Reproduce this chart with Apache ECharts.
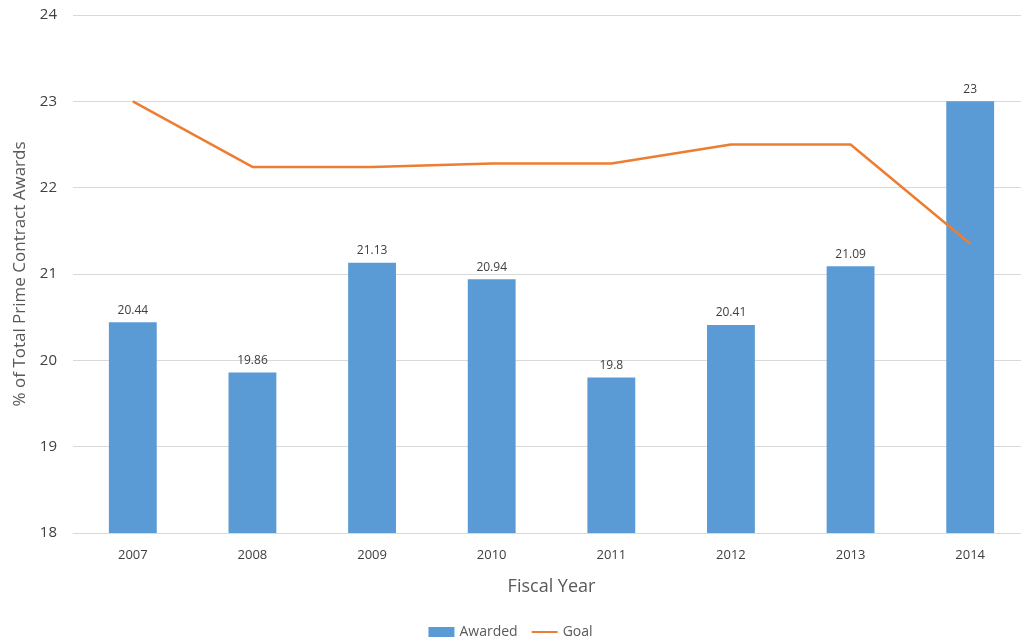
<!DOCTYPE html>
<html>
<head>
    <meta charset="utf-8">
    <title>Prime Contract Awards</title>
    <script src="https://cdn.jsdelivr.net/npm/echarts@6/dist/echarts.min.js"></script>
    <style>
        html, body { margin: 0; padding: 0; background: #fff; }
        #chart { width: 1021px; height: 639px; }
    </style>
</head>
<body>
    <div id="chart"></div>
    <script type="text/javascript">
        // data
        const years = ['2007', '2008', '2009', '2010', '2011', '2012', '2013', '2014'];
        const awarded = [20.44, 19.86, 21.13, 20.94, 19.8, 20.41, 21.09, 23];
        const goal = [23, 22.24, 22.24, 22.28, 22.28, 22.5, 22.5, 21.35];

        const chart = echarts.init(document.getElementById('chart'));

        const option = {
            animation: false,
            textStyle: { fontFamily: 'Open Sans, sans-serif' },
            grid: { left: 73, width: 957, top: 15, bottom: 106, outerBoundsMode: 'none' },
            legend: {
                top: 620,
                left: 'center',
                itemWidth: 26,
                itemHeight: 10,
                itemGap: 14,
                textStyle: { color: '#595959', fontSize: 14 },
                data: [
                    { name: 'Awarded', icon: 'rect' },
                    { name: 'Goal', icon: 'path://M0,4 L26,4 L26,6 L0,6 Z' }
                ]
            },
            xAxis: {
                type: 'category',
                data: years,
                name: 'Fiscal Year',
                nameLocation: 'middle',
                nameGap: 45,
                nameTextStyle: { color: '#595959', fontSize: 18 },
                axisLine: { lineStyle: { color: '#d9d9d9' } },
                axisTick: { show: false },
                axisLabel: { color: '#404040', fontSize: 13, margin: 16 }
            },
            yAxis: {
                type: 'value',
                min: 18,
                max: 24,
                interval: 1,
                name: '% of Total Prime Contract Awards',
                nameLocation: 'middle',
                nameGap: 44,
                nameTextStyle: { color: '#595959', fontSize: 17 },
                axisLine: { show: false },
                axisTick: { show: false },
                axisLabel: { color: '#404040', fontSize: 15, margin: 16 },
                splitLine: { lineStyle: { color: '#d9d9d9' } }
            },
            series: [{
                name: 'Awarded',
                type: 'bar',
                data: awarded,
                barWidth: '40%',
                itemStyle: { color: '#5b9bd5' },
                label: {
                    show: true,
                    position: 'top',
                    distance: 6,
                    color: '#404040',
                    fontSize: 12
                }
            }, {
                name: 'Goal',
                type: 'line',
                data: goal,
                symbol: 'none',
                lineStyle: { color: '#ed7d31', width: 2.5 },
                itemStyle: { color: '#ed7d31' }
            }]
        };
        chart.setOption(option);
    </script>
</body>
</html>
